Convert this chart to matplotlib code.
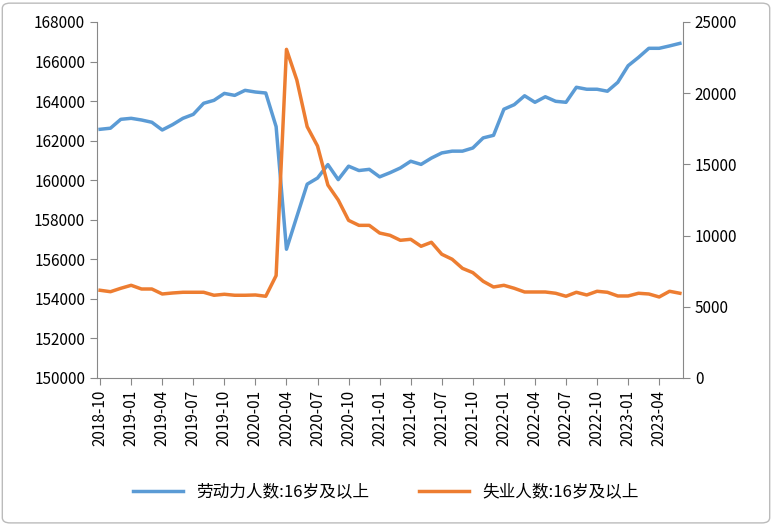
import matplotlib.pyplot as plt
from matplotlib.patches import FancyBboxPatch

plt.rcParams["font.family"] = ["Noto Sans CJK SC", "DejaVu Sans"]

# monthly, 2018-10 .. 2023-06
months = []
y, m = 2018, 10
for _ in range(57):
    months.append(f"{y}-{m:02d}")
    m += 1
    if m > 12:
        y, m = y + 1, 1

labor_force = [162575, 162630, 163080, 163130, 163045, 162930, 162540, 162810, 163130, 163330,
               163890, 164040, 164390, 164290, 164545, 164460, 164410, 162710, 156510, 158160,
               159800, 160110, 160790, 160030, 160710, 160490, 160550, 160170, 160380, 160620,
               160960, 160800, 161120, 161380, 161470, 161470, 161630, 162140, 162270, 163590,
               163820, 164270, 163940, 164220, 163990, 163940, 164700, 164600, 164600, 164500,
               164950, 165790, 166210, 166670, 166670, 166790, 166920]
unemployed = [6160, 6060, 6300, 6510, 6250, 6250, 5900, 5970, 6020, 6020,
              6020, 5810, 5880, 5810, 5810, 5830, 5740, 7190, 23080, 20930,
              17650, 16290, 13550, 12500, 11070, 10720, 10720, 10180, 10020, 9670,
              9740, 9250, 9530, 8690, 8340, 7700, 7400, 6790, 6390, 6510,
              6300, 6040, 6040, 6040, 5950, 5740, 6020, 5830, 6090, 6020,
              5760, 5760, 5950, 5900, 5690, 6090, 5950]

blue = "#5B9BD5"
orange = "#ED7D31"

fig = plt.figure(figsize=(7.72, 5.25), dpi=100)
ax = fig.add_axes([97 / 772, 1 - 378 / 525, 586 / 772, 356 / 525])
ax2 = ax.twinx()
x = list(range(len(months)))
l1, = ax.plot(x, labor_force, color=blue, lw=2.5, label="劳动力人数:16岁及以上")
l2, = ax2.plot(x, unemployed, color=orange, lw=2.5, label="失业人数:16岁及以上")

ax.set_ylim(150000, 168000)
ax.set_yticks(range(150000, 168001, 2000))
ax2.set_ylim(0, 25000)
ax2.set_yticks(range(0, 25001, 5000))
ax.set_xlim(-0.3, len(months) - 0.7)
ax.set_xticks(x[::3])
ax.set_xticklabels(months[::3], rotation=90)

for a in (ax, ax2):
    for s in a.spines.values():
        s.set_visible(False)
    a.tick_params(labelsize=11, color="#888888", length=5)
ax.spines["left"].set_visible(True)
ax.spines["bottom"].set_visible(True)
ax2.spines["right"].set_visible(True)
for s in (ax.spines["left"], ax.spines["bottom"], ax2.spines["right"]):
    s.set_color("#888888")

fig.legend(handles=[l1, l2], loc="center", bbox_to_anchor=(0.5, 1 - 492 / 525),
           ncol=2, frameon=False, fontsize=12, columnspacing=3, handlelength=3)

fig.patches.append(FancyBboxPatch((0.003, 0.004), 0.994, 0.99, boxstyle="round,pad=0,rounding_size=0.01",
                                  transform=fig.transFigure, fill=False, ec="#BBBBBB", lw=1))
fig.savefig("out.png", dpi=100)
